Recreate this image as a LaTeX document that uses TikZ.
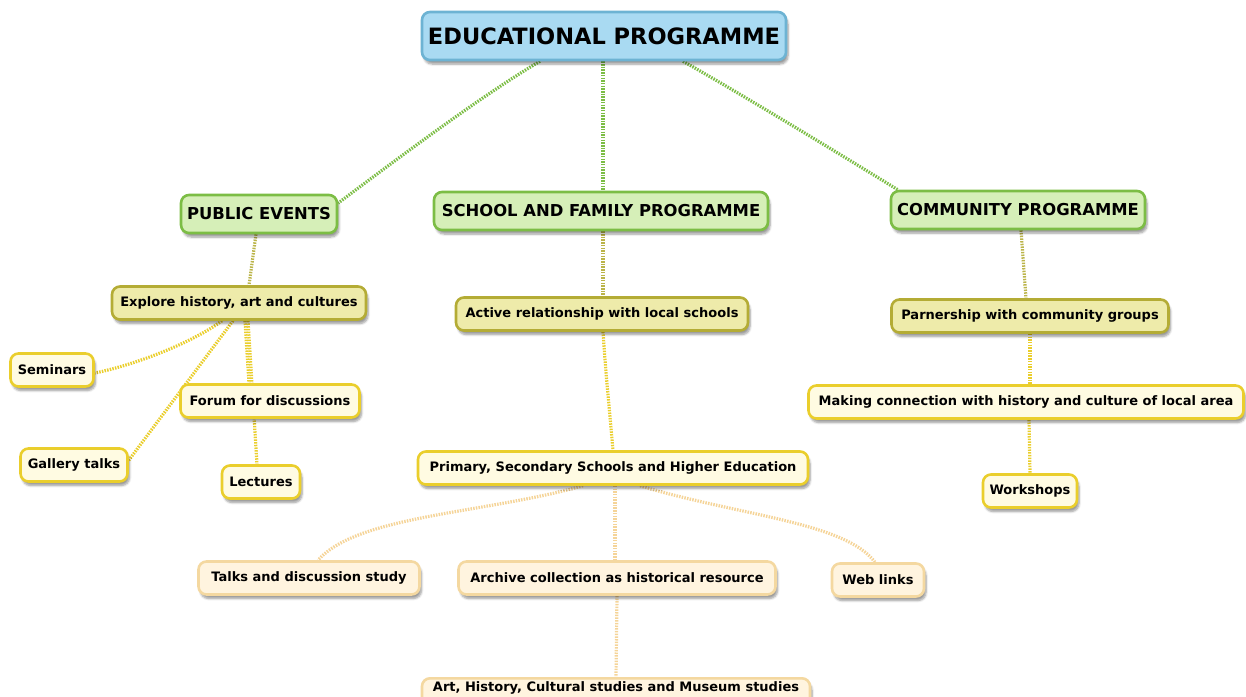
\documentclass[tikz,border=0pt]{standalone}
\usepackage{fontspec}
\setmainfont{DejaVu Sans}
\usetikzlibrary{shadows.blur}
\definecolor{blueFill}{HTML}{A9DAF2}
\definecolor{blueLine}{HTML}{6DB3D3}
\definecolor{greenFill}{HTML}{D6EFB8}
\definecolor{greenLine}{HTML}{7CBD45}
\definecolor{oliveFill}{HTML}{EEEBAA}
\definecolor{oliveLine}{HTML}{B4AC35}
\definecolor{yellowFill}{HTML}{FFFBE2}
\definecolor{yellowLine}{HTML}{EACE2C}
\definecolor{peachFill}{HTML}{FFF4DF}
\definecolor{peachLine}{HTML}{F4D8A0}
\pgfdeclarelayer{background}
\pgfsetlayers{background,main}
\tikzset{
  box/.style={rounded corners=8pt, line width=2.6pt, inner xsep=6pt, inner ysep=0pt,
    font=\bfseries, text=black,
    blur shadow={shadow xshift=2pt, shadow yshift=-4pt, shadow blur steps=6, shadow opacity=40}},
  rootbox/.style={box, fill=blueFill, draw=blueLine, minimum height=48pt,
    font=\bfseries\fontsize{22.5}{26}\selectfont},
  mainbox/.style={box, fill=greenFill, draw=greenLine, minimum height=38pt,
    font=\bfseries\fontsize{16.4}{19}\selectfont},
  topicbox/.style={box, fill=oliveFill, draw=oliveLine, minimum height=33pt,
    font=\bfseries\fontsize{13}{15}\selectfont},
  itembox/.style={box, fill=yellowFill, draw=yellowLine, minimum height=33pt,
    font=\bfseries\fontsize{13}{15}\selectfont},
  leafbox/.style={box, fill=peachFill, draw=peachLine, minimum height=33pt,
    font=\bfseries\fontsize{13}{15}\selectfont},
  link/.style={line width=3.2pt, dash pattern=on 1.5pt off 1.2pt},
  greenlink/.style={link, draw=greenLine},
  olivelink/.style={link, draw=oliveLine!90},
  yellowlink/.style={link, draw=yellowLine},
  peachlink/.style={link, draw=peachLine!95!orange},
}
\begin{document}
\begin{tikzpicture}[x=1pt,y=-1pt]
\useasboundingbox (0,0) rectangle (1246,696);
\clip (0,0) rectangle (1246,696);

% nodes
\node[rootbox, minimum width=364pt] (root) at (604,36) {EDUCATIONAL PROGRAMME};

\node[mainbox, minimum width=153pt] (pub) at (259,214) {PUBLIC EVENTS};
\node[mainbox, minimum width=334pt] (school) at (601,211) {SCHOOL AND FAMILY PROGRAMME};
\node[mainbox, minimum width=254pt] (comm) at (1018,210) {COMMUNITY PROGRAMME};

\node[topicbox, minimum width=254pt] (explore) at (239,303) {Explore history, art and cultures};
\node[topicbox, minimum width=292pt] (active) at (602,314) {Active relationship with local schools};
\node[topicbox, minimum width=277pt] (partner) at (1030,316) {Parnership with community groups};

\node[itembox, minimum width=83pt] (seminars) at (52,370) {Seminars};
\node[itembox, minimum width=179pt] (forum) at (270,401) {Forum for discussions};
\node[itembox, minimum width=107pt] (gallery) at (74,465) {Gallery talks};
\node[itembox, minimum width=78pt] (lectures) at (261,482) {Lectures};

\node[itembox, minimum width=390pt] (primary) at (613,468) {Primary, Secondary Schools and Higher Education};
\node[itembox, minimum width=435pt] (making) at (1026,402) {Making connection with history and culture of local area};
\node[itembox, minimum width=94pt] (workshops) at (1030,491) {Workshops};

\node[leafbox, minimum width=221pt] (talks) at (309,578) {Talks and discussion study};
\node[leafbox, minimum width=317pt] (archive) at (617,578) {Archive collection as historical resource};
\node[leafbox, minimum width=92pt] (web) at (878,580) {Web links};
% the last box runs past the lower edge; its text sits high in it
\node[leafbox, minimum width=388pt, anchor=north, text height=9pt, text depth=15pt,
  inner ysep=4.5pt] (arts) at (616,677) {Art, History, Cultural studies and Museum studies};

% connectors
\begin{pgfonlayer}{background}
\draw[greenlink] ([xshift=-64pt]root.south) .. controls +(-55,32) and +(60,-45) .. ([yshift=11pt]pub.east);
\draw[greenlink] ([xshift=-1pt]root.south) -- ([xshift=2pt]school.north);
\draw[greenlink] ([xshift=79pt]root.south) .. controls +(50,28) and +(-65,-40) .. ([xshift=8pt]comm.north west);

\draw[olivelink] ([xshift=-3pt]pub.south) -- ([xshift=10pt]explore.north);
\draw[olivelink] ([xshift=2pt]school.south) -- ([xshift=1pt]active.north);
\draw[olivelink] ([xshift=3pt]comm.south) -- ([xshift=-4pt]partner.north);

\draw[yellowlink] ([xshift=-17pt]explore.south) .. controls +(-30,22) and +(40,-8) .. ([yshift=-3pt]seminars.east);
\draw[yellowlink] ([xshift=-6pt]explore.south) -- ([yshift=-13pt]gallery.north east);
\draw[yellowlink] ([xshift=6pt]explore.south) -- ([xshift=-21pt]forum.north);
\draw[yellowlink] ([xshift=9pt]explore.south) -- ([xshift=-4pt]lectures.north);

\draw[yellowlink] ([xshift=1pt]active.south) .. controls +(3,45) and +(-4,-45) .. (primary.north);
\draw[yellowlink] (partner.south) -- ([xshift=4pt]making.north);
\draw[yellowlink] ([xshift=3pt]making.south) -- (workshops.north);

\draw[peachlink] ([xshift=-30pt]primary.south) .. controls +(-100,28) and +(40,-45) .. ([xshift=9pt]talks.north);
\draw[peachlink] ([xshift=2pt]primary.south) -- ([xshift=-2pt]archive.north);
\draw[peachlink] ([xshift=27pt]primary.south) .. controls +(100,30) and +(-30,-40) .. ([xshift=-3pt]web.north);
\draw[peachlink] (archive.south) -- (arts.north);
\end{pgfonlayer}
\end{tikzpicture}
\end{document}
